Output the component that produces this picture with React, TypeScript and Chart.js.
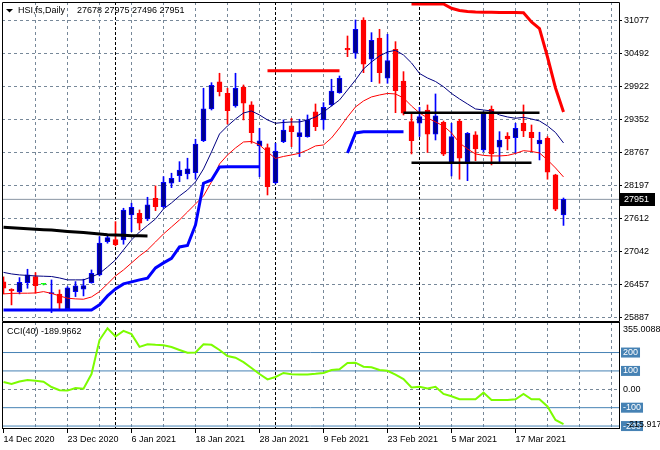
import React, { useEffect, useRef } from 'react';
import { Chart, registerables } from 'chart.js';

Chart.register(...registerables);

const dates = [
  '14 Dec 2020', '15 Dec 2020', '16 Dec 2020', '17 Dec 2020', '18 Dec 2020', '20 Dec 2020', '21 Dec 2020', '22 Dec 2020',
  '23 Dec 2020', '24 Dec 2020', '28 Dec 2020', '29 Dec 2020', '30 Dec 2020', '31 Dec 2020', '4 Jan 2021', '5 Jan 2021',
  '6 Jan 2021', '7 Jan 2021', '8 Jan 2021', '11 Jan 2021', '12 Jan 2021', '13 Jan 2021', '14 Jan 2021', '15 Jan 2021',
  '18 Jan 2021', '19 Jan 2021', '20 Jan 2021', '21 Jan 2021', '22 Jan 2021', '25 Jan 2021', '26 Jan 2021', '27 Jan 2021',
  '28 Jan 2021', '29 Jan 2021', '1 Feb 2021', '2 Feb 2021', '3 Feb 2021', '4 Feb 2021', '5 Feb 2021', '8 Feb 2021',
  '9 Feb 2021', '10 Feb 2021', '11 Feb 2021', '16 Feb 2021', '17 Feb 2021', '18 Feb 2021', '19 Feb 2021', '22 Feb 2021',
  '23 Feb 2021', '24 Feb 2021', '25 Feb 2021', '26 Feb 2021', '1 Mar 2021', '2 Mar 2021', '3 Mar 2021', '4 Mar 2021',
  '5 Mar 2021', '8 Mar 2021', '9 Mar 2021', '10 Mar 2021', '11 Mar 2021', '12 Mar 2021', '15 Mar 2021', '16 Mar 2021',
  '17 Mar 2021', '18 Mar 2021', '19 Mar 2021', '22 Mar 2021', '23 Mar 2021', '24 Mar 2021', '25 Mar 2021',
];

const opens = [
  26509, 26381, 26339, 26496, 26601, 26468, 26305, 26294, 26037, 26339, 26381, 26496, 26631, 27213, 27248, 27242,
  27679, 27709, 27609, 27971, 27824, 28233, 28366, 28395, 28418, 28977, 29531, 30003, 29805, 29583, 29915, 29601,
  28885, 28855, 28243, 28960, 29234, 29047, 29047, 29479, 29339, 29601, 29816, 30591, 30504, 31086, 30399, 30771,
  30067, 30574, 30020, 29309, 29281, 29513, 29089, 29299, 28582, 29321, 28610, 29077, 28815, 29526, 28862, 29059,
  29030, 29281, 29124, 28919, 29019, 28378, 27678,
];
const highs = [
  26596, 26390, 26584, 26730, 26671, 26480, 26543, 26369, 26427, 26514, 26556, 26718, 27300, 27330, 27562, 27796,
  27884, 27766, 27988, 28186, 28348, 28408, 28610, 28670, 29002, 29893, 29990, 30155, 29893, 30155, 29950, 29658,
  29194, 28919, 28932, 29339, 29368, 29351, 29426, 29618, 29641, 30050, 30107, 30806, 31086, 31126, 30864, 30923,
  30836, 30707, 30183, 29456, 29560, 29601, 29793, 29320, 29281, 29351, 29120, 29134, 29484, 29583, 29134, 29117,
  29281, 29601, 29251, 29124, 29047, 28390, 27975,
];
const lows = [
  26299, 26107, 26299, 26398, 26311, 26455, 25972, 26019, 26019, 26252, 26264, 26486, 26613, 27185, 27138, 27167,
  27387, 27417, 27580, 27754, 27796, 28156, 28261, 28308, 28303, 28960, 29513, 29758, 29269, 29561, 29339, 28932,
  28348, 28028, 28221, 28942, 28872, 28698, 29037, 29152, 29176, 29583, 29805, 30445, 30417, 30165, 30008, 29980,
  29980, 29466, 29426, 28745, 29050, 28771, 28989, 28715, 28360, 28303, 28278, 28628, 28785, 28553, 28593, 28815,
  28757, 29047, 28785, 28640, 28303, 27754, 27496,
];
const closes = [
  26398, 26357, 26503, 26631, 26444, 26468, 26312, 26136, 26404, 26439, 26444, 26660, 27185, 27282, 27160, 27766,
  27814, 27534, 27854, 27824, 28250, 28320, 28465, 28483, 28919, 29531, 29945, 29833, 29501, 29893, 29630, 29117,
  28972, 28174, 28797, 29164, 29134, 29117, 29339, 29222, 29561, 29845, 30067, 30562, 30923, 30312, 30731, 30165,
  30375, 29851, 29456, 28977, 29396, 29089, 29409, 28740, 29047, 28670, 29106, 28832, 29456, 28745, 28989, 29007,
  29194, 29147, 29030, 28989, 28425, 27779, 27951,
];

const maFast = [
  26675, 26648, 26631, 26622, 26613, 26608, 26603, 26578, 26544, 26544, 26544, 26596, 26657, 26771, 26893, 27068,
  27242, 27382, 27496, 27609, 27784, 27889, 28011, 28116, 28256, 28483, 28780, 29094, 29234, 29356, 29461, 29496,
  29426, 29339, 29281, 29295, 29304, 29304, 29339, 29391, 29479, 29583, 29688, 29863, 30038, 30230, 30352, 30457,
  30527, 30556, 30474, 30335, 30151, 30072, 30011, 29920, 29802, 29706, 29618, 29531, 29513, 29496, 29426, 29391,
  29368, 29386, 29356, 29321, 29234, 29120, 28937,
];
const maSlow = [
  26299, 26308, 26311, 26311, 26316, 26339, 26308, 26264, 26224, 26212, 26206, 26246, 26339, 26474, 26613, 26718,
  26840, 26963, 27068, 27207, 27347, 27469, 27592, 27731, 27871, 28011, 28256, 28570, 28727, 28850, 28954, 28963,
  28902, 28780, 28666, 28701, 28727, 28757, 28815, 28885, 28902, 29024, 29199, 29391, 29566, 29671, 29741, 29775,
  29802, 29793, 29723, 29583, 29461, 29374, 29304, 29234, 29112, 28937, 28832, 28745, 28719, 28710, 28710, 28719,
  28754, 28802, 28788, 28762, 28640, 28500, 28343,
];

const blueStop = [
  26019, 26019, 26019, 26019, 26019, 26019, 26019, 26019, 26019, 26019, 26019, 26019,
  26107, 26264, 26386, 26474, 26509, 26544, 26573, 26753, 26841, 26919, 27120, 27146, 27504, 28233, 28290, 28518,
  28523, 28523, 28523, 28523, 28523,
  null, null, null, null, null, null, null, null, null, null,
  28762, 29112, 29134, 29134, 29134, 29134, 29134, 29134,
  ...Array(20).fill(null),
];
const redStop = [
  ...Array(51).fill(null),
  31365, 31365, 31365, 31365, 31365, 31290, 31252, 31234, 31225, 31222,
  31220, 31218, 31217, 31215, 31213, 31051, 30937, 30439, 29898, 29479,
];
const redLevel = [
  ...Array(33).fill(null),
  30200, 30200, 30200, 30200, 30200, 30200, 30200, 30200, 30200, 30200,
  ...Array(28).fill(null),
];
const blackTrend = [
  27464, 27455, 27447, 27438, 27429, 27422, 27417, 27403, 27391, 27379, 27370, 27359, 27347, 27333, 27330, 27324,
  27317, 27316, 27312,
  ...Array(52).fill(null),
];
const blackTop = [
  ...Array(50).fill(null),
  29466, 29466, 29466, 29466, 29466, 29466, 29466, 29466, 29466, 29466, 29466, 29466, 29466, 29466, 29466, 29466,
  29466, 29466,
  ...Array(3).fill(null),
];
const blackBottom = [
  ...Array(51).fill(null),
  28593, 28593, 28593, 28593, 28593, 28593, 28593, 28593, 28593, 28593, 28593, 28593, 28593, 28593, 28593, 28593,
  ...Array(4).fill(null),
];

const cci = [
  40, 29, 42, 51, 47, 41, 12.5, -5, -7, 7, 3, 83, 268, 332, 287, 318,
  300, 231, 245, 242, 240, 230, 214, 199, 200, 245, 242, 214, 181, 172, 148, 116,
  83, 54, 67, 89, 82, 81, 81, 84, 89, 105, 109, 143, 145, 123, 120, 105,
  101, 80, 56, 10, 14, 5, 14, -25, -38, -54, -54, -54, -18, -58, -58, -58,
  -54, -25, -54, -54, -93, -167, -189.9662,
];

const priceTicks = [25887, 26457, 27042, 27612, 28197, 28767, 29352, 29922, 30492, 31077];
const cciLevels = [200, 100, -100, -200];
const cciScaleMax = 355.0088;
const cciScaleMin = -215.917;
const symbolTitle = 'HSI,fs,Daily';
const cciTitle = 'CCI(40)';

const FAMILY = '"Liberation Sans", Arial, sans-serif';
const FONT_SIZE = 9;
const FONT = `${FONT_SIZE}px ${FAMILY}`;
const GRID = '#778899';
const BULL_EDGE = '#0000FF';
const BULL_FILL = '#00008B';
const BEAR = '#FF0000';
const DOJI = '#00FF00';
const X_MIN = -0.1875;
const X_MAX = 76.9375;
const PRICE_MIN = 25843;
const PRICE_MAX = 31400;
const CCI_MIN = -216;
const CCI_MAX = 366.2;
const AXIS_W = 41;

const last = closes.length - 1;
const indices = closes.map((_, i) => i);
const monthOf = (d: string) => d.split(' ')[1];
const separators = indices.filter((i) => i > 0 && monthOf(dates[i]) !== monthOf(dates[i - 1]));
const gridIdx: number[] = [];
for (let v = 4; v < X_MAX; v += 4) if (!separators.includes(v)) gridIdx.push(v);
const labelIdx: number[] = [];
for (let v = 0; v < dates.length; v += 8) labelIdx.push(v);

const toPoints = (arr: (number | null)[]) => arr.map((v, i) => ({ x: i, y: v }));
const kind = (i: number) => (closes[i] > opens[i] ? 'bull' : closes[i] < opens[i] ? 'bear' : 'doji');
const edgeColor = (i: number) => ({ bull: BULL_EDGE, bear: BEAR, doji: DOJI }[kind(i)]);
const fillColor = (i: number) => ({ bull: BULL_FILL, bear: BEAR, doji: DOJI }[kind(i)]);

const fixedX = (ticks: number[], color: string, dash: number[]) => ({
  type: 'linear',
  min: X_MIN,
  max: X_MAX,
  bounds: 'data',
  offset: false,
  afterBuildTicks: (s: any) => {
    s.ticks = ticks.map((v) => ({ value: v }));
  },
  ticks: { display: false },
  grid: { color, drawTicks: false, offset: false, lineWidth: 1 },
  border: { display: false, dash },
  afterFit: (s: any) => {
    s.height = 0;
    s.paddingLeft = 0;
    s.paddingRight = 0;
  },
});

const lineDs = (data: (number | null)[], color: string, width: number, order: number) => ({
  type: 'line',
  data: toPoints(data),
  borderColor: color,
  borderWidth: width,
  pointRadius: 0,
  fill: false,
  tension: 0,
  spanGaps: false,
  order,
});

const mainDecor = {
  id: 'mainDecor',
  afterDraw(chart: any) {
    const { ctx, chartArea: a } = chart;
    const yS = chart.scales.y;
    ctx.save();
    ctx.strokeStyle = '#000';
    ctx.lineWidth = 1;
    ctx.setLineDash([]);
    ctx.beginPath();
    ctx.moveTo(a.left + 0.5, a.bottom + 1.5);
    ctx.lineTo(a.left + 0.5, a.top + 0.5);
    ctx.lineTo(a.right + 0.5, a.top + 0.5);
    ctx.lineTo(a.right + 0.5, a.bottom + 1.5);
    ctx.lineTo(a.left + 0.5, a.bottom + 1.5);
    ctx.stroke();

    ctx.fillStyle = '#000';
    ctx.beginPath();
    ctx.moveTo(a.left + 4, a.top + 7);
    ctx.lineTo(a.left + 11, a.top + 7);
    ctx.lineTo(a.left + 7.5, a.top + 10.5);
    ctx.closePath();
    ctx.fill();
    ctx.font = FONT;
    ctx.textBaseline = 'middle';
    ctx.textAlign = 'left';
    ctx.fillText(symbolTitle, a.left + 16, a.top + 9);
    ctx.fillText([opens[last], highs[last], lows[last], closes[last]].join(' '), a.left + 75, a.top + 9);

    const py = Math.round(yS.getPixelForValue(closes[last]));
    ctx.fillStyle = '#000';
    ctx.fillRect(a.right + 1, py - 6, 35, 13);
    ctx.fillStyle = '#fff';
    ctx.fillText(String(closes[last]), a.right + 5, py + 0.5);
    ctx.restore();
  },
};

const cciDecor = {
  id: 'cciDecor',
  afterDraw(chart: any) {
    const { ctx, chartArea: a } = chart;
    const yS = chart.scales.y;
    ctx.save();
    ctx.strokeStyle = '#000';
    ctx.lineWidth = 1;
    ctx.setLineDash([]);
    ctx.strokeRect(a.left + 0.5, a.top + 0.5, a.right - a.left, a.bottom - a.top - 1);

    ctx.font = FONT;
    ctx.textBaseline = 'middle';
    ctx.textAlign = 'left';
    ctx.fillStyle = '#000';
    ctx.fillText(`${cciTitle} ${cci[last]}`, a.left + 5, a.top + 10);

    const lx = a.right + 4;
    ctx.fillText(String(cciScaleMax), lx, yS.getPixelForValue(cciScaleMax) + 5);
    cciLevels.forEach((l) => {
      const py = yS.getPixelForValue(l);
      const t = String(l);
      const w = ctx.measureText(t).width;
      ctx.fillStyle = '#4682B4';
      ctx.fillRect(a.right + 2, py - 5, w + 4, 10);
      ctx.fillStyle = '#fff';
      ctx.fillText(t, lx, py);
    });
    ctx.fillStyle = '#000';
    ctx.fillText((0).toFixed(2), lx, yS.getPixelForValue(0));
    ctx.fillText(String(cciScaleMin), lx + 3, yS.getPixelForValue(cciScaleMin) - 4.5);
    ctx.restore();
  },
};

function mainConfig(): any {
  return {
    type: 'bar',
    data: {
      datasets: [
        {
          type: 'line',
          data: [
            { x: X_MIN, y: closes[last] },
            { x: X_MAX, y: closes[last] },
          ],
          borderColor: '#8a96a3',
          borderWidth: 1,
          pointRadius: 0,
          order: 30,
        },
        {
          type: 'bar',
          data: indices.map((i) => ({ x: i, y: [lows[i], highs[i]] })),
          backgroundColor: indices.map(edgeColor),
          borderWidth: 0,
          barThickness: 1,
          grouped: false,
          order: 21,
        },
        {
          type: 'bar',
          data: indices.map((i) => ({ x: i, y: [opens[i], closes[i]] })),
          backgroundColor: indices.map(fillColor),
          borderColor: indices.map(edgeColor),
          borderWidth: 1,
          borderSkipped: false,
          barThickness: 5,
          minBarLength: 1,
          grouped: false,
          order: 20,
        },
        lineDs(maSlow, '#FF0000', 1, 6),
        lineDs(maFast, '#000080', 1, 5),
        lineDs(blueStop, '#0000FF', 3, 4),
        lineDs(redStop, '#FF0000', 3, 4),
        lineDs(redLevel, '#FF0000', 3, 4),
        lineDs(blackTrend, '#000000', 3, 3),
        lineDs(blackTop, '#000000', 2.5, 3),
        lineDs(blackBottom, '#000000', 2.5, 3),
      ],
    },
    options: {
      responsive: false,
      animation: false,
      devicePixelRatio: 1,
      events: [],
      layout: { padding: { left: 2, top: 2, right: 0, bottom: 2 } },
      plugins: { legend: { display: false }, tooltip: { enabled: false } },
      scales: {
        x: fixedX(gridIdx, GRID, [3, 3]),
        xs: fixedX(separators, '#000000', [3, 2]),
        y: {
          type: 'linear',
          position: 'right',
          min: PRICE_MIN,
          max: PRICE_MAX,
          bounds: 'data',
          afterBuildTicks: (s: any) => {
            s.ticks = priceTicks.map((v) => ({ value: v }));
          },
          ticks: {
            color: '#000',
            font: { family: FAMILY, size: FONT_SIZE },
            padding: 2,
            callback: (v: any) => String(v),
          },
          grid: { color: GRID, drawTicks: true, tickLength: 3, tickColor: '#000' },
          border: { display: false, dash: [3, 3] },
          afterFit: (s: any) => {
            s.width = AXIS_W;
            s.paddingTop = 0;
            s.paddingBottom = 0;
          },
        },
      },
    },
    plugins: [mainDecor],
  };
}

function cciConfig(): any {
  return {
    type: 'line',
    data: {
      datasets: [
        ...cciLevels.map((l) => ({
          type: 'line',
          data: [
            { x: X_MIN, y: l },
            { x: X_MAX, y: l },
          ],
          borderColor: '#4682B4',
          borderWidth: 1,
          pointRadius: 0,
          order: 3,
        })),
        lineDs(cci, '#7CFC00', 2, 1),
      ],
    },
    options: {
      responsive: false,
      animation: false,
      devicePixelRatio: 1,
      events: [],
      layout: { padding: { left: 2, top: 0, right: 0, bottom: 0 } },
      plugins: { legend: { display: false }, tooltip: { enabled: false } },
      scales: {
        x: {
          type: 'linear',
          position: 'bottom',
          min: X_MIN,
          max: X_MAX,
          bounds: 'data',
          offset: false,
          afterBuildTicks: (s: any) => {
            s.ticks = labelIdx.map((v) => ({ value: v }));
          },
          ticks: {
            display: true,
            align: 'start',
            autoSkip: false,
            maxRotation: 0,
            minRotation: 0,
            padding: 1,
            color: '#000',
            font: { family: FAMILY, size: FONT_SIZE },
            callback: (v: any) => dates[v] ?? '',
          },
          grid: { drawOnChartArea: false, drawTicks: true, tickLength: 4, color: '#000', offset: false },
          border: { display: false },
          afterFit: (s: any) => {
            s.height = 21;
            s.paddingLeft = 0;
            s.paddingRight = 0;
          },
        },
        xg: fixedX(gridIdx, GRID, [3, 3]),
        xs: fixedX(separators, '#000000', [3, 2]),
        y: {
          type: 'linear',
          position: 'right',
          min: CCI_MIN,
          max: CCI_MAX,
          bounds: 'data',
          afterBuildTicks: (s: any) => {
            s.ticks = [{ value: 0 }];
          },
          ticks: { display: false },
          grid: { color: GRID, drawTicks: false },
          border: { display: false, dash: [3, 3] },
          afterFit: (s: any) => {
            s.width = AXIS_W;
            s.paddingTop = 0;
            s.paddingBottom = 0;
          },
        },
      },
    },
    plugins: [cciDecor],
  };
}

export default function App() {
  const mainRef = useRef<HTMLCanvasElement>(null);
  const cciRef = useRef<HTMLCanvasElement>(null);

  useEffect(() => {
    document.body.style.margin = '0';
    const mainChart = new Chart(mainRef.current as HTMLCanvasElement, mainConfig());
    const cciChart = new Chart(cciRef.current as HTMLCanvasElement, cciConfig());
    return () => {
      mainChart.destroy();
      cciChart.destroy();
    };
  }, []);

  return (
    <div style={{ position: 'relative', width: 660, height: 450, background: '#fff', overflow: 'hidden' }}>
      <canvas
        ref={mainRef}
        width={660}
        height={322}
        style={{ position: 'absolute', left: 0, top: 0, width: 660, height: 322 }}
      />
      <canvas
        ref={cciRef}
        width={660}
        height={128}
        style={{ position: 'absolute', left: 0, top: 322, width: 660, height: 128 }}
      />
    </div>
  );
}
